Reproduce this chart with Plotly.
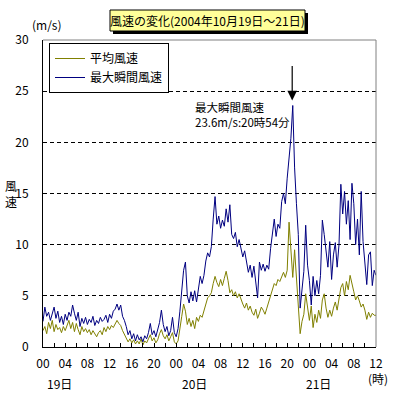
import plotly.graph_objects as go

# 20-minute samples, hours from 2004-10-19 00:00
step_hours = 1 / 3
gust = [
    2.5, 3.9, 3.0, 3.4, 2.6, 3.3, 3.9, 2.8, 3.5, 2.4, 3.0, 2.2,
    3.2, 2.6, 3.4, 3.0, 4.1, 3.3, 2.6, 3.4, 2.0, 2.8, 2.3, 2.9,
    2.2, 2.7, 2.4, 3.0, 2.1, 2.6, 2.3, 2.9, 2.5, 2.7, 3.1, 2.4,
    3.2, 2.8, 3.5, 3.7, 4.2, 3.6, 4.1, 3.0, 2.6, 2.0, 1.2, 1.6,
    0.8, 1.3, 0.6, 1.2, 0.7, 1.0, 0.5, 1.1, 0.8, 1.4, 2.3, 1.2,
    1.6, 1.0, 1.8, 2.4, 3.6, 2.2, 1.5, 2.0, 1.1, 1.6, 2.9, 1.4,
    1.0, 1.8, 3.5, 6.0, 7.5, 8.3, 5.0, 4.3, 5.4, 4.5, 5.5, 4.4,
    5.8, 6.9, 6.2, 7.0, 8.4, 9.2, 8.8, 9.8, 12.5, 14.7, 12.0, 12.8,
    11.6, 12.4, 11.8, 13.5, 12.2, 13.9, 11.0, 10.6, 11.2, 9.8, 10.5, 9.6,
    8.8, 9.4, 8.2, 7.3, 8.0, 6.8, 7.9, 6.4, 4.8, 8.3, 7.5, 8.1,
    7.4, 8.0, 7.6, 9.6, 11.2, 12.5, 10.8, 12.0, 11.6, 14.2, 15.0, 14.0,
    16.5, 18.6, 20.4, 23.6, 17.5, 14.0, 11.0, 3.8, 6.0, 7.4, 11.9, 8.0,
    6.5, 4.1, 6.9, 5.0, 6.5, 5.2, 7.0, 12.4, 11.0, 9.5, 7.8, 10.3,
    6.6, 9.0, 10.2, 7.8, 10.0, 15.9, 13.0, 15.2, 12.0, 14.3, 10.5, 16.0,
    14.0, 10.0, 12.5, 9.0, 15.2, 10.3, 8.0, 6.1, 9.0, 9.3, 6.0, 7.5,
    7.0,
]
mean = [
    1.6, 2.0, 1.3, 2.4, 1.8, 2.6, 1.5, 2.2, 1.7, 1.9, 1.4, 2.0,
    1.6, 2.1, 2.6, 1.8, 2.4, 1.5, 2.3, 1.7, 1.2, 2.0, 1.5, 1.8,
    1.4, 1.7, 1.2, 1.6, 1.3, 1.0, 1.4, 1.6, 1.2, 1.9, 1.5, 2.0,
    1.7, 2.1, 1.9, 2.2, 2.6, 2.3, 2.1, 1.6, 1.2, 0.9, 0.5, 0.8,
    0.4, 0.7, 0.3, 0.6, 0.3, 0.8, 0.2, 0.6, 0.4, 0.8, 1.2, 0.6,
    0.9, 0.4, 0.7, 1.3, 1.7, 1.1, 0.8, 1.2, 0.6, 1.0, 1.4, 0.5,
    0.3, 0.6, 1.6, 3.0, 4.2, 3.5, 2.2, 2.8, 2.0, 2.6, 1.8, 2.9,
    2.5, 3.1, 2.9, 3.6, 4.2, 4.8, 5.0, 5.3, 6.2, 6.9, 6.3, 5.9,
    6.6, 6.0, 6.7, 7.4, 6.5, 5.3, 5.6, 5.0, 5.4, 4.8, 5.2, 4.6,
    4.2, 3.8, 4.3, 3.6, 4.0, 3.4, 3.1, 3.7, 2.8, 3.3, 3.9, 3.6,
    3.2, 3.8, 4.4, 5.0, 5.8, 6.2, 6.0, 6.6, 6.4, 6.9, 7.3, 6.8,
    7.5, 12.2, 9.0, 6.8, 9.5, 6.4, 3.6, 1.3, 2.5, 3.2, 5.2, 3.8,
    2.6, 4.0, 1.9, 3.2, 2.4, 3.6, 2.8, 4.6, 5.2, 3.8, 2.9, 3.6,
    3.0, 3.8, 4.4, 3.6, 4.6, 5.8, 6.2, 5.0, 6.4, 5.6, 7.0, 6.3,
    5.4, 4.6, 5.0, 4.5, 3.9, 4.2, 3.6, 2.7, 3.4, 2.9, 3.3, 3.1,
    3.1,
]
hours = [i * step_hours for i in range(len(gust))]

tick_hours = list(range(0, 61, 2))
tick_text = ["%02d" % (h % 24) if h % 4 == 0 else "" for h in tick_hours]
day_labels = ["19日", "20日", "21日"]
day_label_hours = [3.0, 27.3, 49.6]
peak_hour = 44.9
peak_value = 23.6
title_text = "風速の変化(2004年10月19日～21日)"
peak_text = "最大瞬間風速<br>23.6m/s:20時54分"

FONT = "Noto Sans CJK JP"
W, H = 399, 399
L, R, T, B = 43, 23, 40, 52
PW, PH = W - L - R, H - T - B


def px_x(p):
    return (p - L) / PW


def px_y(p):
    return (H - B - p) / PH


fig = go.Figure()
fig.add_trace(go.Scatter(x=hours, y=mean, mode="lines", name="平均風速",
                         line=dict(color="#808000", width=1)))
fig.add_trace(go.Scatter(x=hours, y=gust, mode="lines", name="最大瞬間風速",
                         line=dict(color="#000080", width=1)))

shapes = [
    # top and right frame (gray)
    dict(type="line", xref="paper", yref="paper", x0=0, x1=1, y0=1, y1=1,
         line=dict(color="#808080", width=1), layer="above"),
    dict(type="line", xref="paper", yref="paper", x0=1, x1=1, y0=0, y1=1,
         line=dict(color="#808080", width=1), layer="above"),
    # title box shadow and box
    dict(type="rect", xref="paper", yref="paper",
         x0=px_x(113), x1=px_x(308), y0=px_y(34), y1=px_y(13),
         fillcolor="black", line=dict(width=0), layer="above"),
    dict(type="rect", xref="paper", yref="paper",
         x0=px_x(110), x1=px_x(305), y0=px_y(31), y1=px_y(10),
         fillcolor="#ffff99", line=dict(color="black", width=1), layer="above"),
]

annotations = [
    dict(text=title_text, xref="paper", yref="paper", x=px_x(207.5), y=px_y(20.5),
         showarrow=False, font=dict(family=FONT, size=12, color="black"),
         xanchor="center", yanchor="middle"),
    dict(text="(m/s)", xref="paper", yref="paper", x=px_x(47), y=px_y(25),
         showarrow=False, font=dict(family=FONT, size=12, color="black"),
         xanchor="center", yanchor="middle"),
    dict(text="風<br>速", xref="paper", yref="paper", x=px_x(11), y=px_y(193),
         showarrow=False, font=dict(family=FONT, size=12, color="black"),
         xanchor="center", yanchor="middle"),
    dict(text="(時)", xref="paper", yref="paper", x=px_x(378), y=px_y(378),
         showarrow=False, font=dict(family=FONT, size=12, color="black"),
         xanchor="center", yanchor="middle"),
    # arrow to peak
    dict(text="", x=peak_hour, y=peak_value + 0.5, xref="x", yref="y",
         ax=peak_hour, ay=peak_value + 4.0, axref="x", ayref="y",
         showarrow=True, arrowhead=2, arrowsize=1.6, arrowwidth=1.2,
         arrowcolor="black"),
    dict(text=peak_text, x=27.0, y=px_y(97) * 30, xref="x", yref="y",
         showarrow=False, align="left", xanchor="left", yanchor="top",
         font=dict(family=FONT, size=11.5, color="black")),
]
for lab, h in zip(day_labels, day_label_hours):
    annotations.append(dict(text=lab, x=h, xref="x", yref="paper", y=px_y(383),
                            showarrow=False, xanchor="center", yanchor="middle",
                            font=dict(family=FONT, size=12, color="black")))

fig.update_layout(
    width=W, height=H,
    margin=dict(l=L, r=R, t=T, b=B, pad=0),
    paper_bgcolor="white", plot_bgcolor="white",
    font=dict(family=FONT, size=12, color="black"),
    showlegend=True,
    legend=dict(x=px_x(49), y=px_y(43), xanchor="left", yanchor="top",
                bgcolor="white", bordercolor="black", borderwidth=1,
                font=dict(family=FONT, size=12, color="black"),
                tracegroupgap=0, itemwidth=30),
    xaxis=dict(range=[0, 60], tickmode="array", tickvals=tick_hours, ticktext=tick_text,
               ticks="inside", ticklen=4, tickcolor="black", tickwidth=1,
               showline=True, linecolor="black", linewidth=1,
               showgrid=False, zeroline=False, ticklabelstandoff=6,
               tickfont=dict(family=FONT, size=12, color="black")),
    yaxis=dict(range=[0, 30], tickmode="linear", tick0=0, dtick=5,
               ticks="", showline=True, linecolor="black", linewidth=1,
               showgrid=True, gridcolor="black", gridwidth=1, griddash="4px,3px",
               zeroline=False, ticklabelstandoff=11,
               tickfont=dict(family=FONT, size=12, color="black")),
    shapes=shapes,
    annotations=annotations,
)

fig.write_html("out.html", config={"displayModeBar": False},
               post_script="document.body.style.margin='0';")
